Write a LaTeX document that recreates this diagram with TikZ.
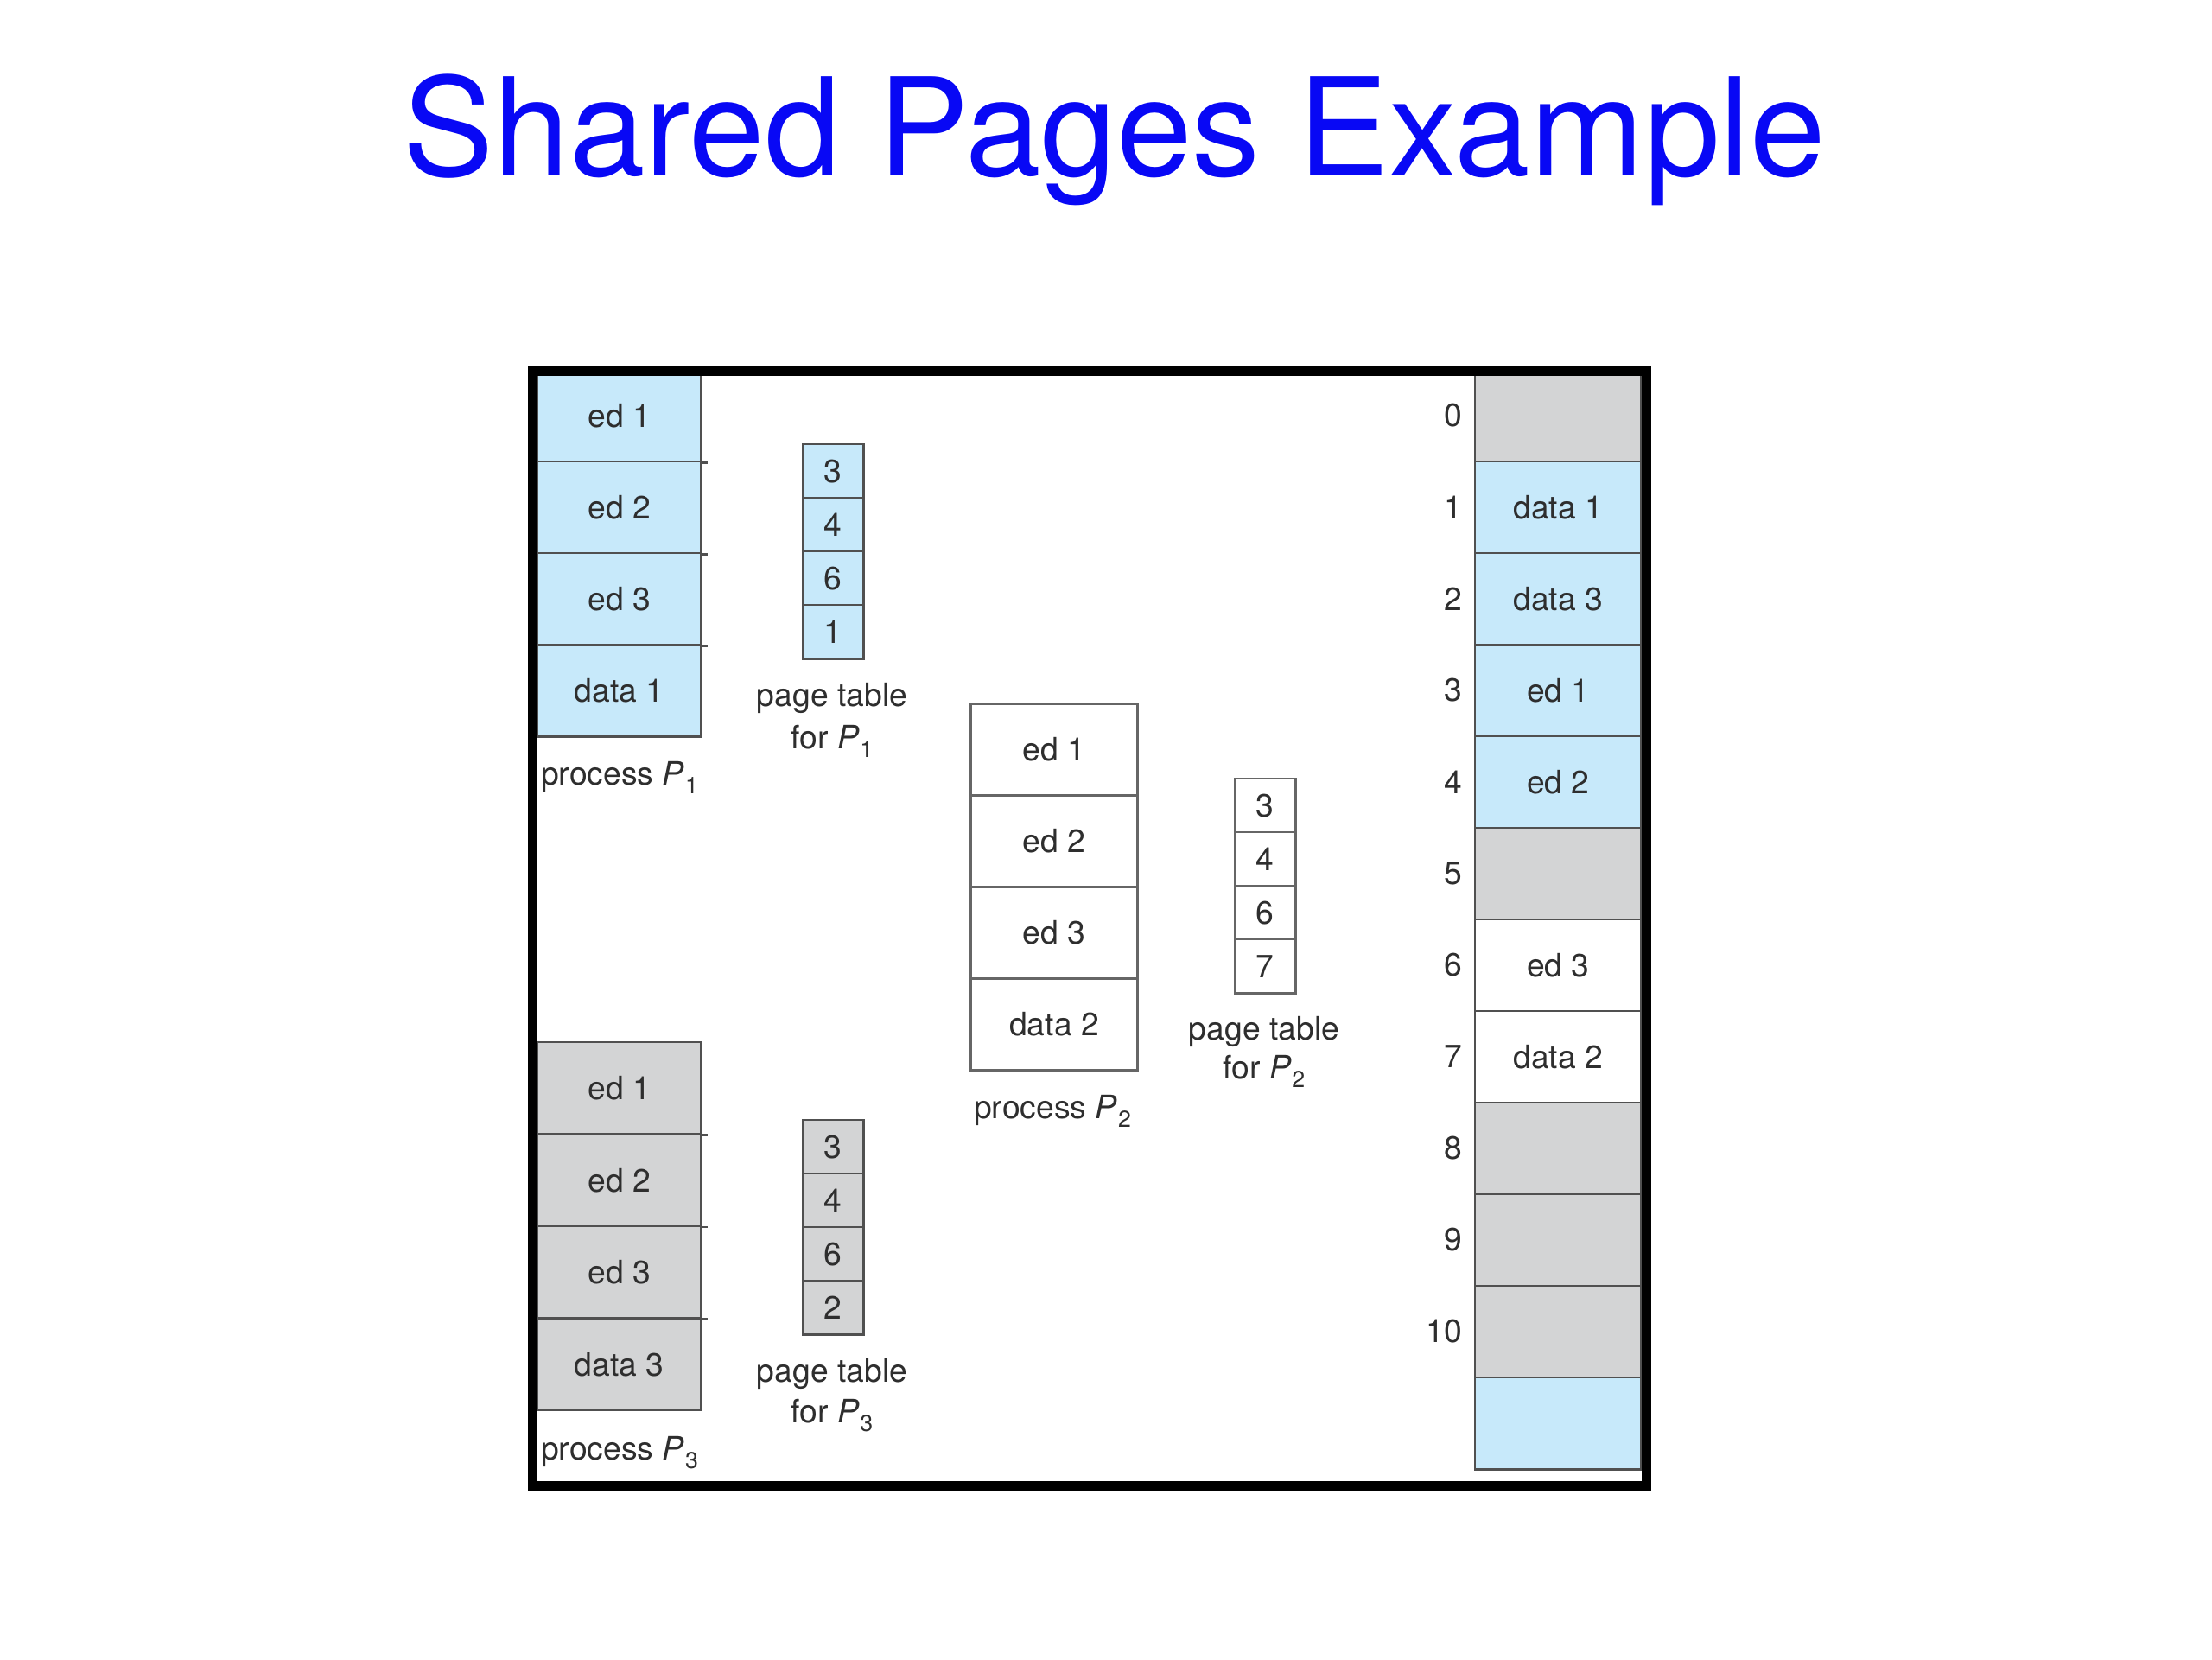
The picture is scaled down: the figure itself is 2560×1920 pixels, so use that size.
\documentclass[tikz,border=0pt]{standalone}
\usepackage{fontspec}
\setmainfont{TeX Gyre Heros}
\definecolor{cellblue}{RGB}{199,233,250}
\definecolor{cellgray}{RGB}{211,212,213}
\definecolor{edgegray}{RGB}{80,80,80}
\definecolor{titleblue}{RGB}{8,8,245}
\newcommand{\Pn}[1]{\textit{P}\kern0.02em\raisebox{-0.55ex}{\fontsize{7.6pt}{9pt}\selectfont #1}}
\begin{document}
\begin{tikzpicture}[x=0.01cm,y=-0.01cm,
  lbl/.style={font=\fontsize{10.6pt}{13pt}\selectfont, text=black!82},
  cell/.style={draw=edgegray, line width=0.7pt, anchor=north west, inner sep=0pt,
    minimum height=1.06cm, lbl},
  proc/.style={cell, minimum width=1.89cm},
  ptcell/.style={cell, minimum width=0.70cm, minimum height=0.62cm},
  memcell/.style={cell, minimum width=1.92cm},
  pcell/.style={cell, draw=black!60, line width=0.85pt, minimum width=1.93cm},
  edge/.style={draw=edgegray, line width=0.7pt},
  caption/.style={lbl, anchor=base, inner sep=0pt},
  frame/.style={draw=black, line width=3.13pt}]
\useasboundingbox[fill=white] (0,0) rectangle (2560,1920);

% title
\node[font=\fontsize{44.8pt}{54pt}\selectfont, text=titleblue, anchor=base, inner sep=0pt]
  (title) at (1290,203) {Shared Pages Example};

% process P1
\foreach \t [count=\i from 0] in {ed 1, ed 2, ed 3, data 1}
  \node[proc, fill=cellblue] (pa\i) at (621,{427+106*\i}) {\t};
\foreach \i in {0,1,2} \draw[edge] (pa\i.south east) -- ++(6,0);
\node[caption] (pacap) at (717,908) {process \Pn{1}};

% page table P1
\foreach \t [count=\i from 0] in {3,4,6,1}
  \node[ptcell, fill=cellblue] (ta\i) at (928,{513+62*\i}) {\t};
\node[caption] (tacap1) at (963,817) {page table};
\node[caption] (tacap2) at (963,866) {for \Pn{1}};

% process P3
\foreach \t [count=\i from 0] in {ed 1, ed 2, ed 3, data 3}
  \node[proc, fill=cellgray] (pc\i) at (621,{1205+106.5*\i}) {\t};
\foreach \i in {0,1,2} \draw[edge] (pc\i.south east) -- ++(6,0);
\node[caption] (pccap) at (717,1689) {process \Pn{3}};

% page table P3
\foreach \t [count=\i from 0] in {3,4,6,2}
  \node[ptcell, fill=cellgray] (tc\i) at (928,{1295+62*\i}) {\t};
\node[caption] (tccap1) at (963,1599) {page table};
\node[caption] (tccap2) at (963,1646) {for \Pn{3}};

% process P2
\foreach \t [count=\i from 0] in {ed 1, ed 2, ed 3, data 2}
  \node[pcell, fill=white] (pb\i) at (1122,{813+106*\i}) {\t};
\node[caption] (pbcap) at (1218,1294) {process \Pn{2}};

% page table P2
\foreach \t [count=\i from 0] in {3,4,6,7}
  \node[ptcell, fill=white, draw=black!60] (tb\i) at (1428,{900+62*\i}) {\t};
\node[caption] (tbcap1) at (1463,1203) {page table};
\node[caption] (tbcap2) at (1463,1248) {for \Pn{2}};

% physical memory
\foreach \t/\c [count=\i from 0] in {/cellgray, data 1/cellblue, data 3/cellblue,
    ed 1/cellblue, ed 2/cellblue, /cellgray, ed 3/white, data 2/white,
    /cellgray, /cellgray, /cellgray, /cellblue}
  \node[memcell, fill=\c] (m\i) at (1706,{427+106*\i}) {\t};
\foreach \i in {0,...,10}
  \node[lbl, anchor=east, inner sep=0pt] (n\i) at (1693,{481+106*\i}) {\i};

% frame
\draw[frame] (616,429.5) rectangle (1905,1719);
\end{tikzpicture}
\end{document}
